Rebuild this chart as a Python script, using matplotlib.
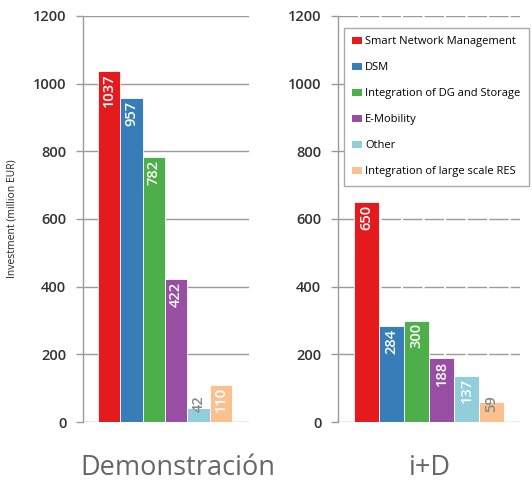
import matplotlib
matplotlib.use("Agg")
import matplotlib.pyplot as plt
from matplotlib.patches import Patch

categories = ["Smart Network Management", "DSM", "Integration of DG and Storage",
              "E-Mobility", "Other", "Integration of large scale RES"]
colors = ["#E41A1C", "#377EB8", "#4DAF4A", "#984EA3", "#92CDDC", "#FAC090"]
demo_values = [1037, 957, 782, 422, 42, 110]
rd_values = [650, 284, 300, 188, 137, 59]
groups = ["Demonstración", "i+D"]
yticks = [0, 200, 400, 600, 800, 1000, 1200]

# label colour per bar: grey where the bar is too short for the text
demo_label_colors = ["white", "white", "white", "white", "#888888", "white"]
rd_label_colors = ["white", "white", "white", "white", "white", "#888888"]

W, H = 532, 482
fig = plt.figure(figsize=(W / 100, H / 100), dpi=100)

sans = ["Open Sans", "DejaVu Sans"]
LABEL_SPAN = 95   # approx. height of a rotated 3-4 digit label, in data units
LABEL_FLOOR = 30  # lowest allowed bottom of a label, in data units


def make_panel(rect, values, label_colors, xlim, dashed):
    ax = fig.add_axes(rect)
    x = list(range(len(values)))
    ax.bar(x, values, width=1.0, color=colors, edgecolor="white", linewidth=0.6, zorder=3)
    ax.set_xlim(*xlim)
    ax.set_ylim(0, 1200)
    ax.set_yticks(yticks)
    ax.set_xticks([])
    if dashed:
        ax.grid(axis="y", color="#9a9a9a", linewidth=1.0, linestyle=(0, (14, 1.5)), zorder=0)
    else:
        ax.grid(axis="y", color="#9a9a9a", linewidth=1.0, zorder=0)
    for s in ["top", "right", "bottom"]:
        ax.spines[s].set_visible(False)
    ax.spines["left"].set_color("#9a9a9a")
    ax.spines["left"].set_linewidth(1.0)
    ax.tick_params(axis="y", length=5, color="#9a9a9a", width=1.0,
                   labelsize=10.5, labelcolor="#333333", pad=7)
    for lbl in ax.get_yticklabels():
        lbl.set_fontfamily(sans)
        lbl.set_fontweight("semibold")
    for xi, v, c in zip(x, values, label_colors):
        if v - 8 - LABEL_SPAN >= LABEL_FLOOR:
            ax.text(xi, v - 8, str(v), rotation=90, ha="center", va="top",
                    color=c, fontsize=10.5, family=sans, fontweight="semibold", zorder=4)
        else:
            ax.text(xi, LABEL_FLOOR, str(v), rotation=90, ha="center", va="bottom",
                    color=c, fontsize=10.5, family=sans, fontweight="semibold", zorder=4)
    return ax


ax1 = make_panel([83 / W, 1 - 422 / H, (249 - 83) / W, (422 - 16) / H],
                 demo_values, demo_label_colors, (-1.17, 6.26), dashed=False)
ax2 = make_panel([338 / W, 1 - 422 / H, (520 - 338) / W, (422 - 16) / H],
                 rd_values, rd_label_colors, (-1.14, 6.14), dashed=True)

ax1.set_ylabel("Investment (million EUR)", fontsize=7.5, family=sans,
               color="#222222", labelpad=11)

fig.text(178 / W, 1 - 468 / H, groups[0], ha="center", va="center",
         fontsize=19.5, color="#666666", family=sans)
fig.text(430 / W, 1 - 468 / H, groups[1], ha="center", va="center",
         fontsize=19.5, color="#666666", family=sans)

handles = [Patch(facecolor=c, edgecolor="none") for c in colors]
leg = fig.legend(handles, categories, loc="upper left",
                 bbox_to_anchor=(344 / W, 1 - 28 / H),
                 prop={"family": sans, "size": 8.0},
                 handlelength=0.9, handleheight=0.55, handletextpad=0.25,
                 labelspacing=1.35, borderpad=0.75, borderaxespad=0,
                 fancybox=False, framealpha=1, edgecolor="#aaaaaa")
leg.get_frame().set_linewidth(1.0)

fig.savefig("out.png", dpi=100)
